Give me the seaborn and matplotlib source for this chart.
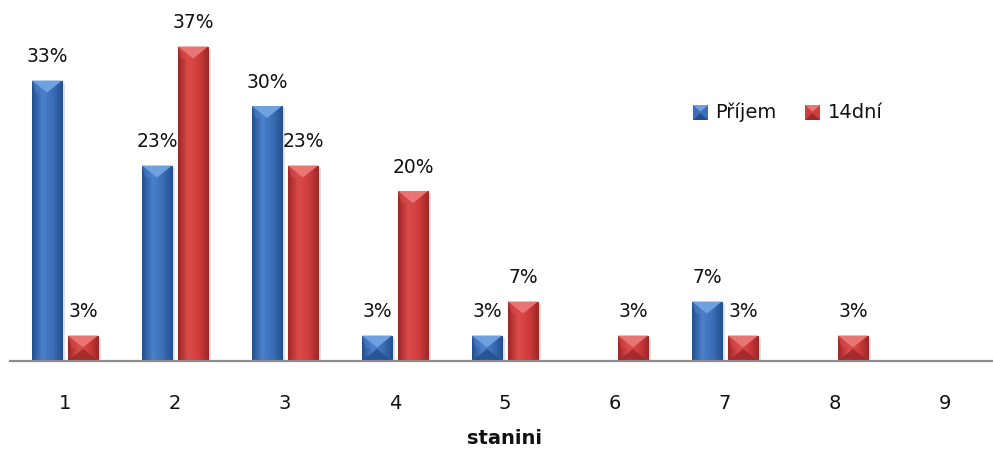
import numpy as np
import pandas as pd
import matplotlib
matplotlib.use("Agg")
import matplotlib.pyplot as plt
from matplotlib.colors import LinearSegmentedColormap
from matplotlib.patches import Polygon, Rectangle
import seaborn as sns

# Stanine distribution (percent of pupils) at intake and after 14 days
categories = ["1", "2", "3", "4", "5", "6", "7", "8", "9"]
prijem = [33, 23, 30, 3, 3, 0, 7, 0, 0]
dni14 = [3, 37, 23, 20, 7, 3, 3, 3, 0]
series_names = ["Příjem", "14dní"]
x_label = "stanini"

df = pd.DataFrame({
    "stanini": categories * 2,
    "pct": prijem + dni14,
    "series": [series_names[0]] * len(categories) + [series_names[1]] * len(categories),
})

base_cols = {"Příjem": "#3B6FB8", "14dní": "#D03D3D"}
dark_cols = {"Příjem": "#244F8E", "14dní": "#9E2727"}
light_cols = {"Příjem": "#6FA0E0", "14dní": "#E87474"}
mid_cols = {"Příjem": "#4B80CA", "14dní": "#DC4B4B"}

sns.set_theme(style="white")
plt.rcParams["font.family"] = ["DejaVu Sans"]

fig = plt.figure(figsize=(9.93, 4.5), dpi=100)
W, H = 993, 450
ax = fig.add_axes([10 / W, 89 / H, 990 / W, 340 / H])

sns.barplot(data=df, x="stanini", y="pct", hue="series", order=categories,
            hue_order=series_names, palette=base_cols, width=0.655, gap=0.165,
            saturation=1, errorbar=None, ax=ax, legend=False, linewidth=0)

ax.set_ylim(0, 40)
ax.set_xlim(-0.5, 8.5)
for s in ["top", "right", "left"]:
    ax.spines[s].set_visible(False)
ax.spines["bottom"].set_color("#8C8C8C")
ax.spines["bottom"].set_linewidth(1.6)
ax.set_yticks([])
ax.set_ylabel("")
ax.tick_params(axis="x", length=0, pad=24, labelsize=14, labelcolor="#111111")
ax.set_xlabel(x_label, fontsize=14, fontweight="bold", labelpad=11, color="#111111")

fig.canvas.draw()
# pixels per data unit, used to size the bevel
p0 = ax.transData.transform((0, 0))
p1 = ax.transData.transform((1, 1))
px_x = p1[0] - p0[0]
px_y = p1[1] - p0[1]

for container, name in zip(ax.containers, series_names):
    cmap = LinearSegmentedColormap.from_list(
        name, [dark_cols[name], mid_cols[name], base_cols[name], dark_cols[name]])
    grad = np.linspace(0, 1, 64).reshape(1, -1)
    for bar in container:
        h = bar.get_height()
        if h <= 0:
            continue
        x0 = bar.get_x()
        w = bar.get_width()
        x1 = x0 + w
        xc = x0 + w / 2
        # faint drop shadow
        ax.add_patch(Rectangle((x0 + 2.5 / px_x, 0.0), w, h - 2 / px_y,
                               color="#000000", alpha=0.12, zorder=1.5, lw=0))
        bar.set_zorder(2)
        im = ax.imshow(grad, cmap=cmap, aspect="auto", extent=(x0, x1, 0, h),
                       zorder=2.1, interpolation="bicubic")
        im.set_clip_path(bar)
        # bevelled top face
        d_px = min(0.4 * w * px_x, h * px_y / 2)
        d = d_px / px_y
        ax.add_patch(Polygon([(x0, h), (x1, h), (xc, h - d)], closed=True,
                             color=light_cols[name], lw=0, zorder=2.3))
        ax.add_patch(Polygon([(x0, h), (xc, h - d), (x0 + 0.12 * w, h - d)], closed=True,
                             color=mid_cols[name], lw=0, zorder=2.2, alpha=0.6))
        if h * px_y < 2.2 * d_px + 4:
            ax.add_patch(Polygon([(x0, 0), (x1, 0), (xc, d)], closed=True,
                                 color=dark_cols[name], lw=0, zorder=2.3, alpha=0.85))
        # value label
        ax.annotate(f"{h:.0f}%", (xc, h), xytext=(0, 13), textcoords="offset points",
                    ha="center", va="baseline", fontsize=13.5, color="#111111",
                    zorder=4)

# legend with small bevelled squares
for name, lx, tx in [("Příjem", 693, 715), ("14dní", 805, 828)]:
    sq = 15
    y_top = H - 105
    fig.patches.append(Rectangle((lx / W, (y_top - sq) / H), sq / W, sq / H,
                                 transform=fig.transFigure, color=base_cols[name],
                                 figure=fig, lw=0))
    fig.patches.append(Polygon([(lx / W, y_top / H), ((lx + sq) / W, y_top / H),
                                ((lx + sq / 2) / W, (y_top - sq * 0.45) / H)],
                               transform=fig.transFigure, color=light_cols[name],
                               figure=fig, lw=0))
    fig.patches.append(Polygon([(lx / W, (y_top - sq) / H), ((lx + sq) / W, (y_top - sq) / H),
                                ((lx + sq / 2) / W, (y_top - sq * 0.55) / H)],
                               transform=fig.transFigure, color=dark_cols[name],
                               figure=fig, lw=0))
    fig.text(tx / W, (H - 112) / H, name, fontsize=14, va="center", ha="left",
             color="#111111")

fig.savefig("out.png", dpi=100)
